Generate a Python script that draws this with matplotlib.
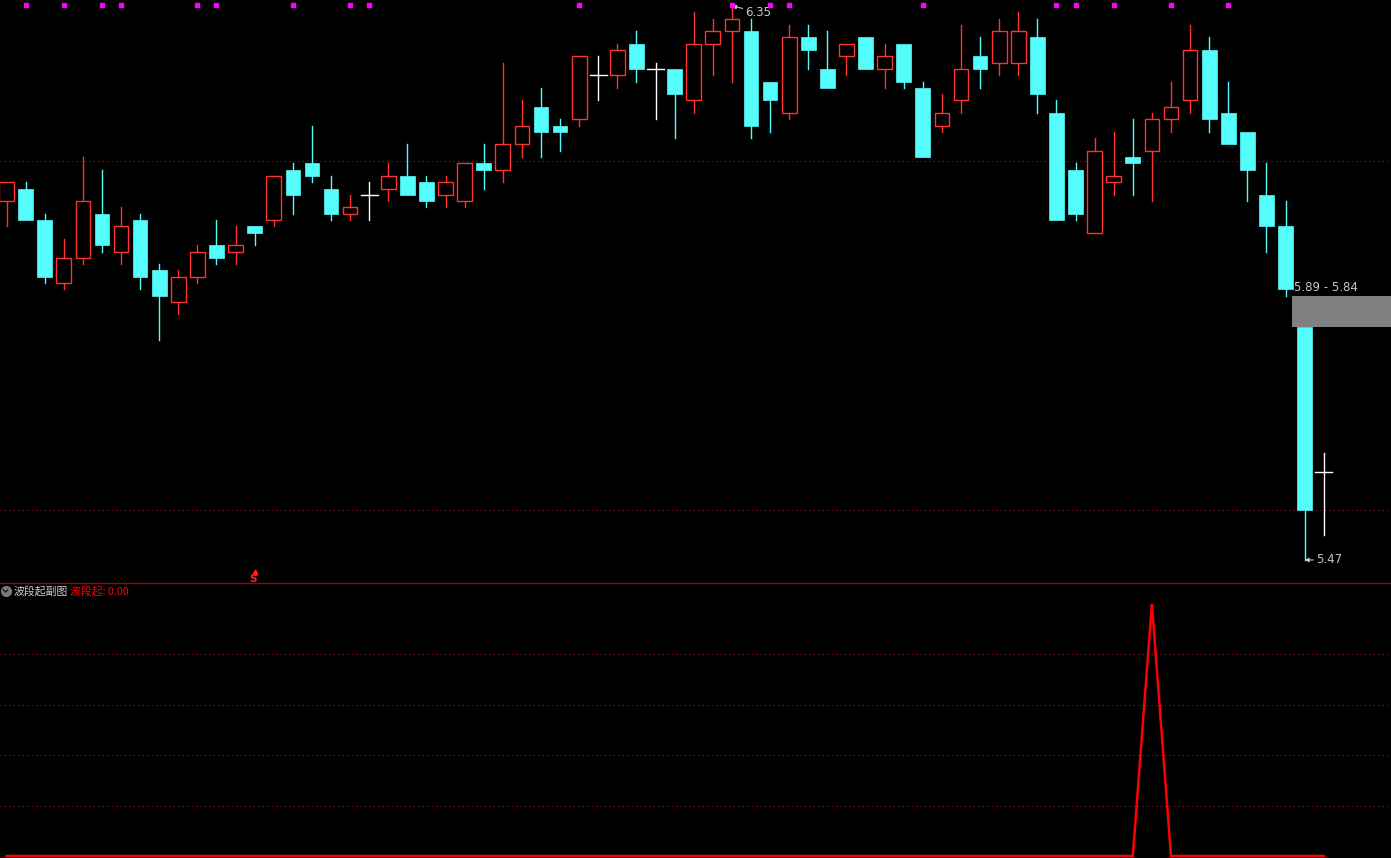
import matplotlib.pyplot as plt
from matplotlib.patches import Rectangle
from matplotlib.lines import Line2D

plt.rcParams['font.family'] = ['Noto Sans CJK SC', 'DejaVu Sans']

# daily bars, oldest first
opens = [6.04, 6.06, 6.01, 5.91, 5.95, 6.02, 5.96, 6.01, 5.93, 5.88,
         5.92, 5.97, 5.96, 6.00, 6.01, 6.09, 6.10, 6.06, 6.02, 6.05,
         6.06, 6.08, 6.07, 6.05, 6.04, 6.10, 6.09, 6.13, 6.19, 6.16,
         6.17, 6.24, 6.24, 6.29, 6.25, 6.25, 6.20, 6.29, 6.31, 6.31,
         6.23, 6.18, 6.30, 6.25, 6.27, 6.30, 6.25, 6.29, 6.22, 6.16,
         6.20, 6.27, 6.26, 6.26, 6.30, 6.18, 6.09, 5.99, 6.07, 6.11,
         6.12, 6.17, 6.20, 6.28, 6.18, 6.15, 6.05, 6.00, 5.84, 5.61]
highs = [6.07, 6.07, 6.02, 5.98, 6.11, 6.09, 6.03, 6.02, 5.94, 5.93,
         5.97, 6.01, 6.00, 6.00, 6.08, 6.10, 6.16, 6.08, 6.05, 6.07,
         6.10, 6.13, 6.08, 6.08, 6.10, 6.13, 6.26, 6.20, 6.22, 6.17,
         6.27, 6.27, 6.29, 6.31, 6.26, 6.25, 6.34, 6.33, 6.35, 6.33,
         6.23, 6.32, 6.32, 6.31, 6.29, 6.30, 6.29, 6.29, 6.23, 6.21,
         6.32, 6.30, 6.33, 6.34, 6.33, 6.20, 6.10, 6.14, 6.15, 6.17,
         6.18, 6.23, 6.32, 6.30, 6.23, 6.15, 6.10, 6.04, 5.84, 5.64]
lows = [6.00, 6.01, 5.91, 5.90, 5.94, 5.96, 5.94, 5.90, 5.82, 5.86,
        5.91, 5.94, 5.94, 5.97, 6.00, 6.02, 6.07, 6.01, 6.01, 6.01,
        6.04, 6.05, 6.03, 6.03, 6.03, 6.06, 6.07, 6.11, 6.11, 6.12,
        6.16, 6.20, 6.22, 6.23, 6.17, 6.14, 6.18, 6.24, 6.23, 6.14,
        6.15, 6.17, 6.25, 6.22, 6.24, 6.25, 6.22, 6.22, 6.11, 6.15,
        6.18, 6.22, 6.24, 6.24, 6.18, 6.01, 6.01, 5.99, 6.05, 6.05,
        6.04, 6.15, 6.18, 6.15, 6.13, 6.04, 5.96, 5.89, 5.47, 5.51]
closes = [6.07, 6.01, 5.92, 5.95, 6.04, 5.97, 6.00, 5.92, 5.89, 5.92,
          5.96, 5.95, 5.97, 5.99, 6.08, 6.05, 6.08, 6.02, 6.03, 6.05,
          6.08, 6.05, 6.04, 6.07, 6.10, 6.09, 6.13, 6.16, 6.15, 6.15,
          6.27, 6.24, 6.28, 6.25, 6.25, 6.21, 6.29, 6.31, 6.33, 6.16,
          6.20, 6.30, 6.28, 6.22, 6.29, 6.25, 6.27, 6.23, 6.11, 6.18,
          6.25, 6.25, 6.31, 6.31, 6.21, 6.01, 6.02, 6.12, 6.08, 6.10,
          6.17, 6.19, 6.28, 6.17, 6.13, 6.09, 6.00, 5.90, 5.55, 5.61]

signal_days = [1, 3, 5, 6, 10, 11, 15, 18, 19, 30, 38, 40, 41, 48, 55, 56, 58, 61, 64]
s_day = 13
price_grid = [6.104, 5.549]
gap_hi, gap_lo = 5.89, 5.84
max_day, max_price = 38, 6.35
min_day, min_price = 68, 5.47

# sub chart 波段起
wave_start = [0.0] * 70
wave_start[60] = 100.0
sub_grid = [20, 40, 60, 80]

RED = '#FF3232'
CYAN = '#54FCFC'
GRID = '#9A1A1A'

W, H = 1391, 858
fig = plt.figure(figsize=(W / 100, H / 100), dpi=100, facecolor='black')
ax = fig.add_axes([0, 275 / H, 1, 583 / H], facecolor='black')
ax2 = fig.add_axes([0, 0, 1, 274 / H], facecolor='black')

step = 19.09
xlim = (-6.5 / step, (W - 6.5) / step)
for a in (ax, ax2):
    a.set_xlim(*xlim)
    a.set_xticks([])
    a.set_yticks([])
    for s in a.spines.values():
        s.set_visible(False)

ppu = 629.5
ax.set_ylim(6.35 - 577 / ppu, 6.35 + 6 / ppu)
ax2.set_ylim(-2 / 2.52, 100 + 20 / 2.52)

bw = 0.77
for i, (o, h, l, c) in enumerate(zip(opens, highs, lows, closes)):
    top, bot = max(o, c), min(o, c)
    if c > o:
        col = RED
        ax.add_patch(Rectangle((i - bw / 2, bot), bw, top - bot, facecolor='black',
                               edgecolor=col, lw=1.0, zorder=3))
    elif c < o:
        col = CYAN
        ax.add_patch(Rectangle((i - bw / 2, bot), bw, top - bot, facecolor=col,
                               edgecolor=col, lw=0.5, zorder=3))
    else:
        col = 'white'
        ax.plot([i - bw / 2 - 0.05, i + bw / 2 + 0.05], [o, o], color=col, lw=1.0, zorder=3)
    if h > top:
        ax.plot([i, i], [top, h], color=col, lw=1.0, zorder=2)
    if l < bot:
        ax.plot([i, i], [l, bot], color=col, lw=1.0, zorder=2)

for g in price_grid:
    ax.axhline(g, color=GRID, lw=0.8, ls=(0, (1, 3)), zorder=1)

# gap box
ax.add_patch(Rectangle((67.35, gap_lo), xlim[1] - 67.35, gap_hi - gap_lo,
                       facecolor='#808080', edgecolor='none', zorder=5))
ax.text(67.45, gap_hi + 8 / ppu, f'{gap_hi:.2f} - {gap_lo:.2f}', color='#C8C8C8',
        fontsize=8.5, family='DejaVu Sans', va='center', ha='left', zorder=6)

ax.annotate(f'{max_price:.2f}', xy=(max_day, max_price), xytext=(max_day + 0.7, max_price - 6 / ppu),
            color='#C8C8C8', fontsize=8.5, family='DejaVu Sans', va='center', ha='left',
            arrowprops=dict(arrowstyle='-|>', color='#C8C8C8', lw=0.8, mutation_scale=6,
                            shrinkA=0, shrinkB=0))
ax.annotate(f'{min_price:.2f}', xy=(min_day, min_price), xytext=(min_day + 0.6, min_price),
            color='#C8C8C8', fontsize=8.5, family='DejaVu Sans', va='center', ha='left',
            arrowprops=dict(arrowstyle='-|>', color='#C8C8C8', lw=0.8, mutation_scale=6,
                            shrinkA=0, shrinkB=0))

tr = ax.get_xaxis_transform()
ax.plot(signal_days, [1 - 5 / 583] * len(signal_days), 's', color='#FF00FF',
        markersize=3, transform=tr, zorder=6, clip_on=False)
ax.plot([s_day], [1 - 572 / 583], '^', color='#FF2020', markersize=3.5, transform=tr, zorder=6)
ax.text(s_day - 0.1, 1 - 578.5 / 583, 'S', color='#FF2020', fontsize=7.5, fontweight='bold',
        family='DejaVu Sans', ha='center', va='center', transform=tr, zorder=6)

# separator
fig.add_artist(Line2D([0, 1], [1 - 583 / H, 1 - 583 / H], color='#A00000', lw=1.0,
                      transform=fig.transFigure))

# sub chart
for g in sub_grid:
    ax2.axhline(g, color=GRID, lw=0.8, ls=(0, (1, 3)), zorder=1)
ax2.plot(range(len(wave_start)), wave_start, color='#FF0000', lw=1.8, zorder=3,
         solid_joinstyle='miter')

fy = 1 - 591 / H
fig.add_artist(Line2D([5.5 / W], [fy], marker='o', markersize=7, color='#7A7A7A',
                      transform=fig.transFigure))
fig.add_artist(Line2D([3.3 / W, 5.5 / W, 7.7 / W], [fy + 1.2 / H, fy - 1.2 / H, fy + 1.2 / H],
                      color='#202020', lw=1.0, transform=fig.transFigure))
fig.text(14 / W, fy, '波段起副图', color='#D0D0D0', fontsize=7.8, va='center', ha='left')
fig.text(70 / W, fy, '波段起: 0.00', color='#FF0000', fontsize=7.8, va='center', ha='left')

fig.savefig('out.png', dpi=100, facecolor='black')
